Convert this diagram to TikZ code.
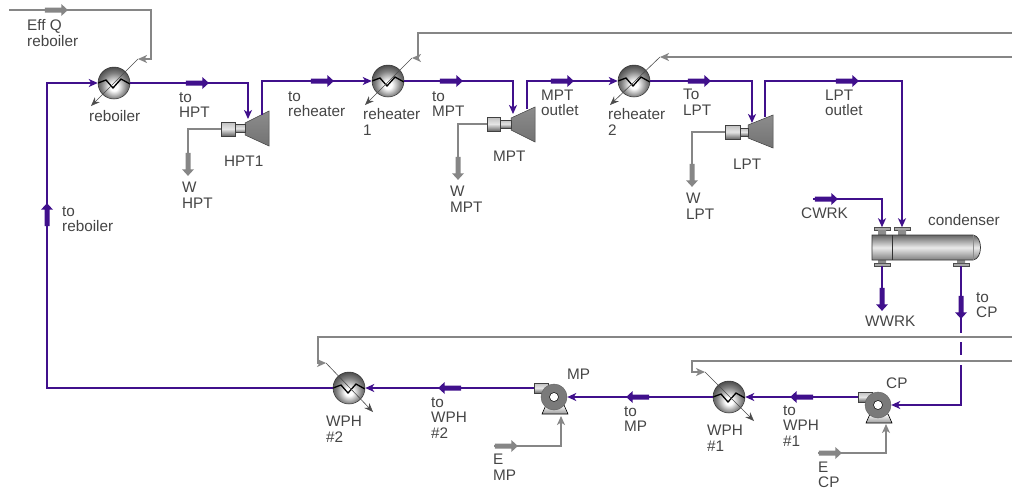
\documentclass[tikz,border=0pt]{standalone}
\usepackage{fontspec}
\setmainfont{Liberation Sans}
\usetikzlibrary{shapes.arrows, arrows.meta}
\definecolor{steam}{HTML}{40108C}
\definecolor{power}{HTML}{868686}
\definecolor{labeltxt}{HTML}{454545}
\pgfdeclareradialshading{hxball}{\pgfpoint{0bp}{-7bp}}{color(0bp)=(white);color(6bp)=(white);color(20bp)=(black!50);color(30bp)=(black!75);color(50bp)=(black!85)}

\begin{document}
\begin{tikzpicture}[x=1pt,y=-1pt,
  flow/.style={draw=steam,line width=1.5pt,-{Stealth[length=9pt,width=8pt,inset=2.5pt]}},
  flowp/.style={draw=steam,line width=1.5pt},
  util/.style={draw=power,line width=1.5pt,-{Stealth[length=9pt,width=8pt,inset=2.5pt]}},
  utilp/.style={draw=power,line width=1.5pt},
  duty/.style={draw=black!70,line width=0.6pt,-{Stealth[length=9pt,width=7pt]}},
  fmark/.style={single arrow,fill=steam,inner xsep=0pt,inner ysep=2.3pt,minimum height=23pt,single arrow head extend=3.5pt,single arrow tip angle=85},
  gmark/.style={fmark,fill=power},
  hx/.style={circle,draw=black!80,line width=0.5pt,minimum size=32pt,inner sep=0pt,shading=hxball,
    path picture={\draw[black,line width=1.3pt,shift={(path picture bounding box.center)},yscale=#1]
      (-16,0) -- (-8,-3) -- (-1,5) -- (7,-4) -- (16,1);}},
  hx/.default=1,
  cone/.style={draw=black!75,line width=0.5pt,top color=black!45,middle color=white!90!black,bottom color=black!55},
  shaftb/.style={rectangle,draw=black!75,line width=0.5pt,inner sep=0pt,top color=black!25,bottom color=black!60,middle color=black!10},
  pump/.style={circle,draw=black!60,line width=0.5pt,fill=black!52,minimum size=26pt,inner sep=0pt,
    path picture={\fill[white,draw=black] (path picture bounding box.center) circle (4.5);}},
  plinth/.style={draw=black,line width=0.6pt,top color=white,bottom color=black!40},
  nozzle/.style={rectangle,draw=black!70,line width=0.5pt,inner sep=0pt,minimum width=16pt,minimum height=3pt,fill=black!35},
  lab/.style={anchor=west,align=left,inner sep=0pt,text=labeltxt,font=\fontsize{15.3}{15.5}\selectfont}
]
  \useasboundingbox (0,0) rectangle (1012,490);

  % equipment
  \node[hx] (rb)  at (114,83) {};
  \node[hx] (rh1) at (388,81) {};
  \node[hx] (rh2) at (634,81) {};
  \node[hx=-1] (wph2) at (349,388) {};
  \node[hx=-1] (wph1) at (729,397) {};

  \draw[cone] (245,123) -- (269,111) -- (269,146) -- (245,135) -- cycle;
  \draw[cone] (511,118) -- (535,107) -- (535,142) -- (511,130) -- cycle;
  \draw[cone] (748,125) -- (773,115) -- (773,148) -- (748,138) -- cycle;
  \node[shaftb,minimum width=10pt,minimum height=8pt](hpt1c) at (240,128.5) {};
  \node[shaftb,minimum width=14pt,minimum height=14pt](hpt1b) at (228,129) {};
  \node[shaftb,minimum width=11pt,minimum height=8pt](mptc) at (505.5,124) {};
  \node[shaftb,minimum width=13pt,minimum height=14pt](mptb) at (493.5,124) {};
  \node[shaftb,minimum width=8pt,minimum height=8pt](lptc) at (744,132) {};
  \node[shaftb,minimum width=15pt,minimum height=14pt](lptb) at (732.5,132) {};

  \draw[plinth] (546,405) -- (564,405) -- (568,414) -- (542,414) -- cycle;
  \node[shaftb,minimum width=14pt,minimum height=10pt](mpbox) at (541,388) {};
  \node[pump](mp) at (554,397) {};
  \draw[plinth] (870,414) -- (888,414) -- (892,423) -- (866,423) -- cycle;
  \node[shaftb,minimum width=14pt,minimum height=10pt](cpbox) at (865,397) {};
  \node[pump](cp) at (878,405) {};

  % condenser
  \node[nozzle](cwin)  at (882,229) {};
  \node[nozzle](lpin)  at (902,229) {};
  \node[nozzle](wwout) at (882,264.5) {};
  \node[nozzle](cpout) at (961,264.5) {};
  \fill[black!45] (878,230) rectangle (886,235) (898,230) rectangle (906,235) (878,260) rectangle (886,263) (957,260) rectangle (965,263);
  \draw[black!80,line width=0.7pt,top color=black!60,bottom color=black!50,middle color=white!92!black]
    (872,235) -- (973,235) .. controls (983,236) and (983,259) .. (973,260) -- (872,260) -- cycle;
  \draw[black!80,line width=0.6pt] (892,235) -- (892,260);
  \draw[black!45,line width=0.5pt] (973,235) -- (973,260);

  % free ends
  \coordinate (effq) at (9,10);
  \coordinate (rbq) at (138,59);
  \coordinate (rbqo) at (91,106);
  \coordinate (rh1q) at (412,58);
  \coordinate (rh1qo) at (365,105);
  \coordinate (rh2q) at (660,57);
  \coordinate (rh2qo) at (610,105);
  \coordinate (wph2q) at (326,363);
  \coordinate (wph2qo) at (373,412);
  \coordinate (wph1q) at (705,372);
  \coordinate (wph1qo) at (754,421);
  \coordinate (hpt1in) at (248,119);
  \coordinate (hpt1out) at (262,115);
  \coordinate (mptin) at (513,114);
  \coordinate (mptout) at (527,109);
  \coordinate (lptin) at (752,123);
  \coordinate (lptout) at (765,117);
  \coordinate (whpt) at (188,165);
  \coordinate (wmpt) at (458,167);
  \coordinate (wlpt) at (692,175);
  \coordinate (cwrk) at (813,199);
  \coordinate (wwrk) at (882,298);
  \coordinate (gapa) at (961,333);
  \coordinate (gapb) at (961,342);
  \coordinate (gapc) at (961,355);
  \coordinate (gapd) at (961,365);
  \coordinate (emp) at (494,446);
  \coordinate (empin) at (561,416);
  \coordinate (ecp) at (818,453);
  \coordinate (ecpin) at (886,424);
  \coordinate (rh1src) at (1012,33);
  \coordinate (rh2src) at (1012,57);
  \coordinate (wph2src) at (1012,337);
  \coordinate (wph1src) at (1012,361);

  % process stream
  \draw[flow](wph2.west) -- ++(-286,0) |- (rb.west);
  \draw[flow](rb.east) -| (hpt1in);
  \draw[flow](hpt1out) |- (rh1.west);
  \draw[flow](rh1.east) -| (mptin);
  \draw[flow](mptout) |- (rh2.west);
  \draw[flow](rh2.east) -| (lptin);
  \draw[flow](lptout) -- ++(0,-36) -| (lpin.north);
  \draw[flow](cwrk) -| (cwin.north);
  \draw[flowp](wwout.south) -- (wwrk);
  \draw[flowp](cpout.south) -- (gapa);
  \draw[flowp](gapb) -- (gapc);
  \draw[flow](gapd) |- (cp.east);
  \draw[flow](cpbox.west) -- (wph1.east);
  \draw[flow](wph1.west) -- (mp.east);
  \draw[flow](mpbox.west) -- (wph2.east);

  % duty and power lines
  \draw[util](effq) -- ++(142,0) |- (rbq);
  \draw[util](rh1src) -- ++(-594,0) |- (rh1q);
  \draw[util](rh2src) -- (rh2q);
  \draw[util](wph2src) -- ++(-694,0) |- (wph2q);
  \draw[util](wph1src) -- ++(-320,0) |- (wph1q);
  \draw[utilp](hpt1b.west) -| (whpt);
  \draw[utilp](mptb.west) -| (wmpt);
  \draw[utilp](lptb.west) -| (wlpt);
  \draw[util](emp) -| (empin);
  \draw[util](ecp) -| (ecpin);
  \draw[duty](rbq) -- (rbqo);
  \draw[duty](rh1q) -- (rh1qo);
  \draw[duty](rh2q) -- (rh2qo);
  \draw[duty](wph2q) -- (wph2qo);
  \draw[duty](wph1q) -- (wph1qo);

  % stream markers
  \node[gmark](meffq) at (55,10) {};
  \node[fmark](mtohpt) at (196,83) {};
  \node[fmark](mtorh) at (321,81) {};
  \node[fmark](mtompt) at (450,81) {};
  \node[fmark](mmptout) at (561,81) {};
  \node[fmark](mtolpt) at (698,81) {};
  \node[fmark](mlptout) at (846,81) {};
  \node[fmark](mcwrk) at (825,199) {};
  \node[fmark,rotate=90](mtorb) at (47,216) {};
  \node[fmark,rotate=-90](mwwrk) at (882,298) {};
  \node[fmark,rotate=-90](mtocp) at (961,306) {};
  \node[gmark,rotate=-90](mwhpt) at (188,163) {};
  \node[gmark,rotate=-90](mwmpt) at (458,167) {};
  \node[gmark,rotate=-90](mwlpt) at (692,174) {};
  \node[fmark,rotate=180](mtowph2) at (451,388) {};
  \node[fmark,rotate=180](mtomp) at (639,397) {};
  \node[fmark,rotate=180](mtowph1) at (803,397) {};
  \node[gmark](memp) at (505,446) {};
  \node[gmark](mecp) at (829,453) {};

  % labels
  \node[lab](leffq) at (27,33) {Eff Q\\reboiler};
  \node[lab](lrb) at (89,116) {reboiler};
  \node[lab](ltohpt) at (179,105) {to\\HPT};
  \node[lab](lhpt1) at (224,161) {HPT1};
  \node[lab](lwhpt) at (182,195) {W\\HPT};
  \node[lab](ltorh) at (288,104) {to\\reheater};
  \node[lab](ltorb) at (62,219) {to\\reboiler};
  \node[lab](lrh1) at (363,122) {reheater\\1};
  \node[lab](ltompt) at (432,104) {to\\MPT};
  \node[lab](lmpt) at (493,156) {MPT};
  \node[lab](lmptout) at (541,103) {MPT\\outlet};
  \node[lab](lwmpt) at (450,199) {W\\MPT};
  \node[lab](lrh2) at (608,122) {reheater\\2};
  \node[lab](ltolpt) at (683,102) {To\\LPT};
  \node[lab](llpt) at (733,164) {LPT};
  \node[lab](lwlpt) at (686,206) {W\\LPT};
  \node[lab](llptout) at (825,103) {LPT\\outlet};
  \node[lab](lcwrk) at (801,213) {CWRK};
  \node[lab](lcond) at (928,220) {condenser};
  \node[lab](lwwrk) at (865,321) {WWRK};
  \node[lab](ltocp) at (976,305) {to\\CP};
  \node[lab](lmp) at (567,374) {MP};
  \node[lab](lcp) at (886,383) {CP};
  \node[lab](lwph2) at (326,429) {WPH\\\#2};
  \node[lab](ltowph2) at (431,418) {to\\WPH\\\#2};
  \node[lab](lemp) at (493,467) {E\\MP};
  \node[lab](ltomp) at (624,419) {to\\MP};
  \node[lab](lwph1) at (707,438) {WPH\\\#1};
  \node[lab](ltowph1) at (783,426) {to\\WPH\\\#1};
  \node[lab](lecp) at (818,475) {E\\CP};
\end{tikzpicture}
\end{document}
